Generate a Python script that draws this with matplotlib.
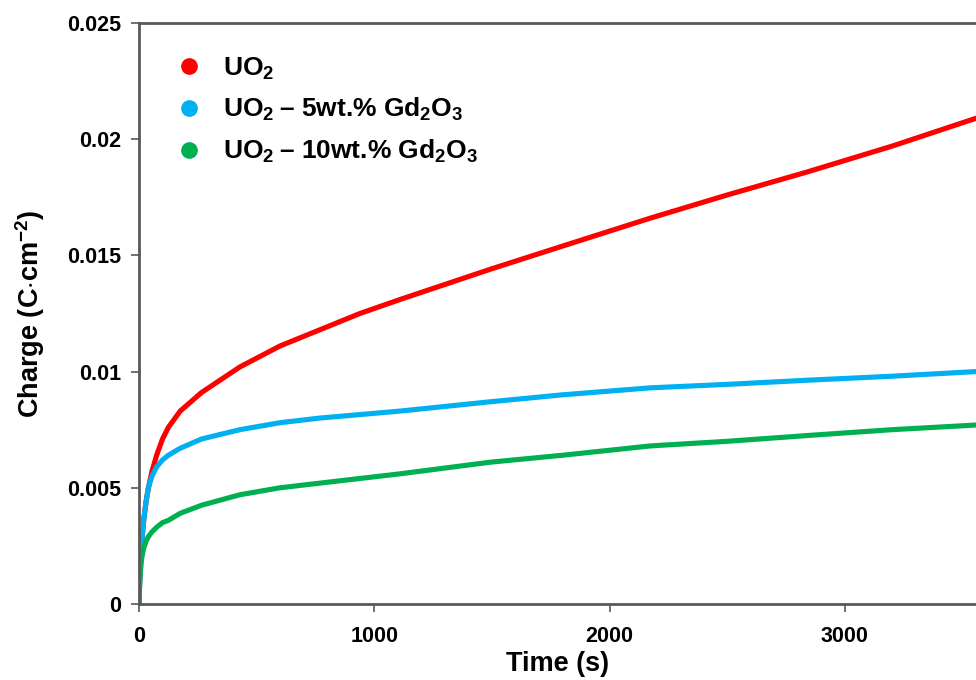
import matplotlib.pyplot as plt
from matplotlib.lines import Line2D

plt.rcParams['font.family'] = ['Liberation Sans', 'DejaVu Sans']
plt.rcParams['font.weight'] = 'bold'
plt.rcParams['mathtext.fontset'] = 'custom'
plt.rcParams['mathtext.rm'] = 'Liberation Sans:bold'
plt.rcParams['mathtext.it'] = 'Liberation Sans:bold'
plt.rcParams['mathtext.bf'] = 'Liberation Sans:bold'

time_s = [0, 3, 7, 12, 20, 30, 40, 55, 75, 100, 125, 175, 266, 429, 599,
          769, 939, 1109, 1492, 1800, 2172, 2500, 2843, 3200, 3557]
uo2 = [0, 0.0010, 0.0019, 0.0027, 0.0036, 0.0044, 0.0050, 0.0057, 0.0064,
       0.0071, 0.0076, 0.0083, 0.0091, 0.0102, 0.0111,
       0.0118, 0.0125, 0.0131, 0.0144, 0.0154, 0.0166, 0.0176, 0.0186, 0.0197, 0.0209]
gd5 = [0, 0.0010, 0.0019, 0.0027, 0.0036, 0.0044, 0.0050, 0.0055, 0.0059,
       0.0062, 0.0064, 0.0067, 0.0071, 0.0075, 0.0078,
       0.0080, 0.00815, 0.0083, 0.0087, 0.0090, 0.0093, 0.00945, 0.00963, 0.0098, 0.0100]
gd10 = [0, 0.0009, 0.0015, 0.0020, 0.0024, 0.0027, 0.0029, 0.0031, 0.0033,
        0.0035, 0.0036, 0.0039, 0.00425, 0.0047, 0.0050,
        0.0052, 0.0054, 0.0056, 0.0061, 0.0064, 0.0068, 0.0070, 0.00725, 0.0075, 0.0077]

labels = ['UO$_2$', 'UO$_2$\u2009\u2013 5wt.% Gd$_2$O$_3$', 'UO$_2$\u2009\u2013 10wt.% Gd$_2$O$_3$']
colors = ['#FF0000', '#00B0F0', '#00B050']
yticks = [0, 0.005, 0.01, 0.015, 0.02, 0.025]
ytick_labels = ['0', '0.005', '0.01', '0.015', '0.02', '0.025']
xticks = [0, 1000, 2000, 3000]

fig = plt.figure(figsize=(9.76, 6.8), dpi=100)
ax = fig.add_axes([0.1424, 0.1118, 0.8576, 0.8544])

for ys, c in zip([uo2, gd5, gd10], colors):
    ax.plot(time_s, ys, color=c, linewidth=3.7, solid_capstyle='round',
            solid_joinstyle='round')

ax.set_xlim(0, 3557)
ax.set_ylim(0, 0.025)
ax.set_yticks(yticks)
ax.set_yticklabels(ytick_labels)
ax.set_xticks(xticks)
ax.set_xticklabels([str(x) for x in xticks])

for s in ['left', 'bottom', 'top']:
    ax.spines[s].set_color('#595959')
    ax.spines[s].set_linewidth(2)
ax.spines['right'].set_visible(False)
ax.tick_params(axis='both', colors='#595959', length=6, width=1.2,
               labelsize=15.5, labelcolor='black')
ax.tick_params(axis='x', pad=10)
ax.tick_params(axis='y', pad=7)

ax.set_xlabel('Time (s)', fontsize=19.5, fontweight='bold', labelpad=3)
ax.set_ylabel(r'Charge (C$\cdot$cm$^{-2}$)', fontsize=19.5, fontweight='bold', labelpad=14)

handles = [Line2D([], [], marker='o', linestyle='none', color=c, markersize=11) for c in colors]
ax.legend(handles, labels, loc='upper left', frameon=False, fontsize=19,
          handletextpad=0.3, labelspacing=0.55, bbox_to_anchor=(0.0, 0.985),
          borderaxespad=0.5)

plt.savefig('out.png', dpi=100)
